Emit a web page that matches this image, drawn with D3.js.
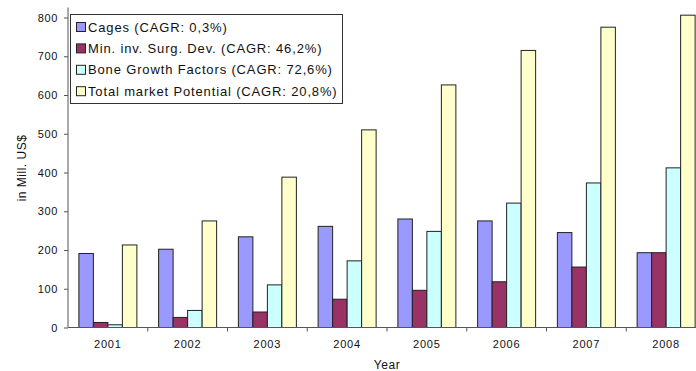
<!DOCTYPE html>
<html>
<head>
<meta charset="utf-8">
<script src="https://cdn.jsdelivr.net/npm/d3@7/dist/d3.min.js"></script>
<style>
  html, body { margin: 0; padding: 0; background: #fff; overflow: hidden; }
  svg { display: block; font-family: "Liberation Sans", Arial, sans-serif; }
</style>
</head>
<body>
<svg id="chart" width="696" height="371"></svg>
<script>
// Spine market development by segment, 2001-2008 (Mill. US$)
const years = ["2001", "2002", "2003", "2004", "2005", "2006", "2007", "2008"];
const seriesNames = [
  "Cages (CAGR: 0,3%)",
  "Min. inv. Surg. Dev. (CAGR: 46,2%)",
  "Bone Growth Factors (CAGR: 72,6%)",
  "Total market Potential (CAGR: 20,8%)"
];
const cages       = [191, 202, 234, 261, 280, 275, 245, 193];
const minInvSurg  = [13, 26, 40, 73, 96, 118, 156, 193];
const boneGrowth  = [7, 44, 110, 172, 248, 321, 373, 412];
const totalMarket = [213, 275, 388, 510, 626, 715, 775, 806];
const yTicks = [0, 100, 200, 300, 400, 500, 600, 700, 800];
const seriesColors = ["#9999FF", "#993366", "#CCFFFF", "#FFFFCC"];

const seriesValues = [cages, minInvSurg, boneGrowth, totalMarket];

const svg = d3.select("#chart");
const plot = { left: 68, right: 706, top: 17.5, bottom: 327.5 };

const x = d3.scaleBand().domain(years).range([plot.left, plot.right]).paddingInner(0).paddingOuter(0);
const bandW = x.bandwidth();
const barW = bandW / 5.5; // 150% gap between groups
const y = d3.scaleLinear().domain([0, 800]).range([plot.bottom, plot.top]);

// bars
const groups = svg.append("g").selectAll("g")
  .data(years)
  .join("g")
  .attr("transform", d => `translate(${x(d) + barW * 0.75},0)`);

groups.selectAll("rect")
  .data((d, i) => seriesValues.map((vals, s) => ({ s, v: vals[i] })))
  .join("rect")
  .attr("x", d => d.s * barW)
  .attr("y", d => y(d.v))
  .attr("width", barW)
  .attr("height", d => y(0) - y(d.v))
  .attr("fill", d => seriesColors[d.s])
  .attr("stroke", "#222")
  .attr("stroke-width", 1);

// y axis
const yAxis = d3.axisLeft(y).tickValues(yTicks).tickSize(4).tickPadding(6);
const gy = svg.append("g").attr("transform", `translate(${plot.left},0)`).call(yAxis);
gy.select(".domain").attr("stroke", "#555").attr("d", `M0,${plot.top - 10}V${plot.bottom}`);
gy.selectAll(".tick line").attr("stroke", "#555");
gy.selectAll("text")
  .attr("font-size", 11)
  .attr("letter-spacing", 0.6)
  .attr("fill", "#111")
  .style("font-family", "Liberation Sans, Arial, sans-serif");

// x axis: ticks sit on category boundaries
const gx = svg.append("g").attr("transform", `translate(0,${plot.bottom})`);
gx.append("line").attr("x1", plot.left).attr("x2", plot.right).attr("stroke", "#555");
gx.selectAll("line.tk")
  .data(years.slice(1))
  .join("line")
  .attr("class", "tk")
  .attr("x1", d => x(d)).attr("x2", d => x(d))
  .attr("y1", 0).attr("y2", 4)
  .attr("stroke", "#555");
gx.selectAll("text")
  .data(years)
  .join("text")
  .attr("x", d => x(d) + bandW / 2)
  .attr("y", 20)
  .attr("text-anchor", "middle")
  .attr("font-size", 11)
  .attr("letter-spacing", 0.8)
  .attr("fill", "#111")
  .text(d => d);

// axis titles
svg.append("text")
  .attr("x", (plot.left + plot.right) / 2)
  .attr("y", 369)
  .attr("text-anchor", "middle")
  .attr("font-size", 12)
  .attr("letter-spacing", 0.6)
  .attr("fill", "#111")
  .text("Year");

svg.append("text")
  .attr("transform", `translate(26,168) rotate(-90)`)
  .attr("text-anchor", "middle")
  .attr("font-size", 12)
  .attr("letter-spacing", 0.5)
  .attr("fill", "#111")
  .text("in Mill. US$");

// legend
const legend = svg.append("g").attr("transform", "translate(70,14)");
legend.append("rect")
  .attr("x", 0.5).attr("y", 0.5)
  .attr("width", 272).attr("height", 89)
  .attr("fill", "#fff")
  .attr("stroke", "#333");
const items = legend.selectAll("g.item")
  .data(seriesNames)
  .join("g")
  .attr("class", "item")
  .attr("transform", (d, i) => `translate(0,${13 + i * 21.4})`);
items.append("rect")
  .attr("x", 6.5).attr("y", -4.5)
  .attr("width", 9).attr("height", 9)
  .attr("fill", (d, i) => seriesColors[i])
  .attr("stroke", "#222");
items.append("text")
  .attr("x", 18)
  .attr("y", 0)
  .attr("dy", "0.35em")
  .attr("font-size", 13)
  .attr("letter-spacing", 0.85)
  .attr("fill", "#111")
  .text(d => d);
</script>
</body>
</html>
